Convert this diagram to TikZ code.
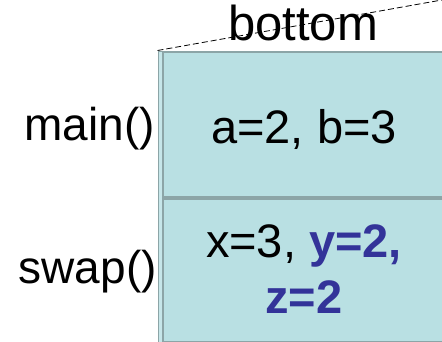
\documentclass[tikz,border=0pt]{standalone}
\usepackage{fontspec}
\setmainfont{Liberation Sans}
\usetikzlibrary{positioning}

\definecolor{cellfill}{HTML}{B9E0E3}
\definecolor{cellline}{HTML}{8CA5A7}
\definecolor{stripfill}{HTML}{C6E6E9}
\definecolor{argblue}{HTML}{333399}

\begin{document}
\begin{tikzpicture}[
    x=1pt, y=1pt,
    % Style definitions
    frame/.style={
        rectangle, draw=cellline, fill=stripfill, line width=1.5pt,
        anchor=north west, inner sep=0pt
    },
    cell/.style={
        rectangle, draw=cellline, fill=cellfill, line width=2.5pt,
        anchor=north west, inner sep=0pt, minimum width=300pt
    },
    vals/.style={
        font=\fontsize{47}{56}\selectfont, align=center, anchor=base,
        inner sep=0pt
    },
    fnlabel/.style={
        font=\fontsize{46}{54}\selectfont, anchor=base east, inner sep=0pt
    },
    boundary/.style={
        line width=0.8pt, dash pattern=on 6pt off 3pt
    },
]

\clip (0, 0) rectangle (442, 341);

% Frame positions
\def\frameL{157.5}
\def\frameT{290.5}
\def\cellL{161.5}
\def\midY{144.5}

% === Stack frames ===
\node[frame, minimum width=300pt, minimum height=291pt] (frame) at (\frameL, \frameT) {};
\node[cell, minimum height=145pt] (mainCell) at (\cellL, \frameT) {};
\node[cell, minimum height=143pt] (swapCell) at (\cellL, \midY-1) {};

% === Values in each frame ===
\node[vals] (mainVals) at (304, 198) {a=2, b=3};
\node[vals] (swapVals) at (304, 84) {x=3, \textcolor{argblue}{\bfseries y=2,}};
\node[vals, text=argblue, font=\fontsize{47}{56}\selectfont\bfseries] (swapValsB) at (304, 28) {z=2};

% === Function labels ===
\node[fnlabel] (mainLabel) at (155, 201) {main()};
\node[fnlabel] (swapLabel) at (157, 58) {swap()};

% === Stack bottom marker ===
\coordinate (far) at (470, 346);
\draw[boundary] (frame.north west) -- (far);
\node[fnlabel, anchor=base, font=\fontsize{49}{56}\selectfont] (bottomLabel) at (303, 301) {bottom};

\end{tikzpicture}
\end{document}
